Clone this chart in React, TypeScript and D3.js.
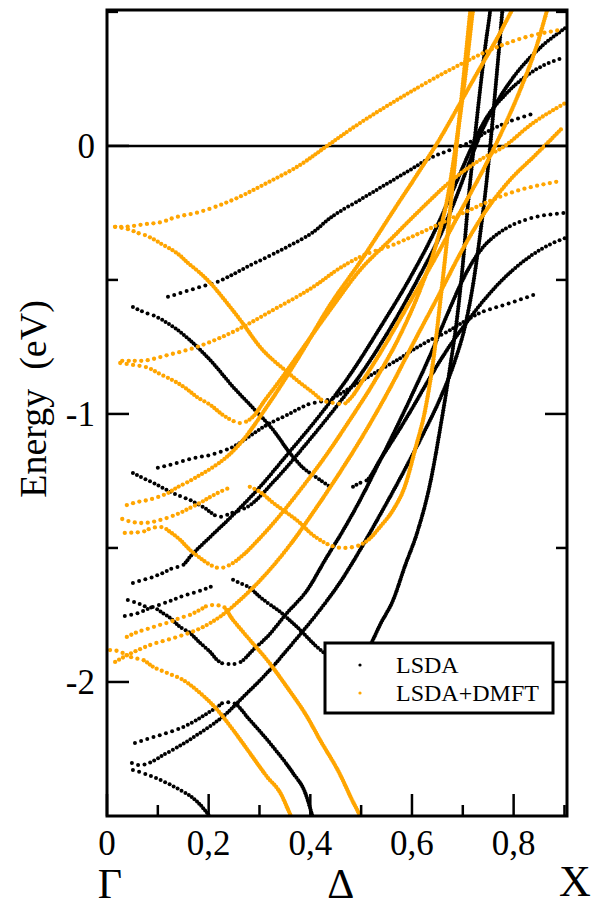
import React, { useEffect, useRef } from 'react';
import * as d3 from 'd3';

type Pt = [number, number];

// ---- axis data ----
const xMajorTicks = [0, 0.2, 0.4, 0.6, 0.8];
const xTickLabels = ['0', '0,2', '0,4', '0,6', '0,8'];
const xMinorTicks = [0.1, 0.3, 0.5, 0.7, 0.9];
const yMajorTicks = [0, -1, -2];
const yTickLabels = ['0', '-1', '-2'];
const yMinorTicks = [0.5, -0.5, -1.5];
const kPointLabels = ['\u0393', '\u0394', 'X'];
const legendLabels = ['LSDA', 'LSDA+DMFT'];

// ---- LSDA bands (k, E) ----
const lsda1: Pt[] = [[.051,-.601],[.071,-.619],[.098,-.638],[.118,-.660],[.144,-.694],[.169,-.735],[.203,-.799],[.248,-.899],[.291,-.985],[.327,-1.060],[.360,-1.146],[.380,-1.190],[.419,-1.246],[.439,-1.272]];
const lsda2: Pt[] = [[.120,-.563],[.144,-.549],[.177,-.530],[.217,-.507],[.276,-.451],[.354,-.377],[.406,-.321],[.439,-.269],[.498,-.201],[.557,-.134],[.596,-.090],[.636,-.045],[.675,-.015],[.715,.015],[.745,.050],[.793,.092],[.837,.119]];
const lsda3: Pt[] = [[.051,-1.220],[.071,-1.239],[.091,-1.257],[.110,-1.276],[.138,-1.302],[.163,-1.321],[.189,-1.347],[.222,-1.384],[.246,-1.369],[.276,-1.347],[.331,-1.246],[.390,-1.116],[.449,-.978],[.508,-.828],[.567,-.649],[.616,-.481],[.656,-.332],[.685,-.201],[.711,-.071],[.734,.041],[.764,.153],[.803,.265],[.852,.366],[.902,.440]];
const lsda4: Pt[] = [[.100,-1.201],[.124,-1.190],[.144,-1.179],[.163,-1.168],[.183,-1.160],[.203,-1.153],[.222,-1.142],[.248,-1.123],[.281,-1.082],[.311,-1.045],[.354,-1.004],[.394,-.966],[.445,-.940],[.472,-.910],[.504,-.873],[.537,-.836],[.571,-.799],[.602,-.761],[.636,-.724],[.669,-.694],[.701,-.657],[.734,-.623],[.768,-.601],[.793,-.586],[.839,-.556]];
const lsda5: Pt[] = [[.484,-1.272],[.498,-1.257],[.512,-1.246],[.537,-1.172],[.571,-1.071],[.602,-.974],[.636,-.862],[.669,-.761],[.701,-.675],[.734,-.593],[.774,-.507],[.823,-.425],[.862,-.377],[.902,-.343]];
const lsda6: Pt[] = [[.051,-1.631],[.071,-1.619],[.091,-1.608],[.110,-1.593],[.130,-1.575],[.150,-1.563],[.163,-1.534],[.203,-1.459],[.248,-1.377],[.301,-1.272],[.354,-1.153],[.419,-1.004],[.478,-.854],[.537,-.679],[.596,-.493],[.646,-.313],[.685,-.146],[.715,-.015],[.744,.097],[.783,.190],[.833,.272],[.902,.332]];
const lsda7: Pt[] = [[.041,-1.694],[.059,-1.705],[.079,-1.720],[.094,-1.724],[.110,-1.743],[.124,-1.761],[.144,-1.795],[.163,-1.817],[.183,-1.854],[.203,-1.888],[.217,-1.918],[.232,-1.933],[.252,-1.933],[.268,-1.918],[.287,-1.881],[.315,-1.832],[.354,-1.743],[.394,-1.657],[.429,-1.545],[.465,-1.433],[.498,-1.321],[.533,-1.190],[.567,-1.060],[.600,-.929],[.636,-.780],[.669,-.631],[.695,-.519],[.719,-.433],[.744,-.369],[.774,-.321],[.823,-.276],[.902,-.250]];
const lsda8: Pt[] = [[.049,-2.302],[.065,-2.310],[.118,-2.265],[.183,-2.190],[.236,-2.116],[.262,-2.067],[.315,-1.966],[.366,-1.854],[.419,-1.731],[.459,-1.627],[.498,-1.507],[.537,-1.377],[.577,-1.239],[.616,-1.097],[.656,-.940],[.685,-.799],[.705,-.668],[.720,-.519],[.734,-.332],[.746,-.146],[.756,.041],[.764,.209],[.772,.377],[.778,.507],[.781,.560]];
const lsda9: Pt[] = [[.051,-2.328],[.071,-2.340],[.091,-2.354],[.118,-2.377],[.144,-2.403],[.169,-2.433],[.189,-2.470],[.201,-2.500],[.210,-2.530]];
const lsda10: Pt[] = [[.055,-2.228],[.085,-2.209],[.118,-2.190],[.150,-2.168],[.183,-2.134],[.217,-2.093],[.232,-2.075],[.248,-2.078],[.281,-2.142],[.327,-2.243],[.366,-2.340],[.390,-2.414],[.404,-2.500],[.411,-2.552]];
const lsda11: Pt[] = [[.035,-1.754],[.061,-1.743],[.085,-1.724],[.114,-1.705],[.150,-1.679],[.183,-1.660],[.213,-1.638]];
const lsda12: Pt[] = [[.248,-1.619],[.262,-1.631],[.281,-1.649],[.301,-1.683],[.341,-1.739],[.380,-1.806],[.413,-1.869],[.439,-1.907],[.469,-1.933],[.494,-1.929],[.518,-1.862],[.537,-1.787],[.563,-1.694],[.587,-1.563],[.610,-1.444],[.636,-1.257],[.656,-1.049],[.675,-.825],[.689,-.638],[.699,-.463],[.711,-.201],[.722,0],[.734,.209],[.746,.396],[.754,.507],[.757,.560]];

// ---- LSDA+DMFT bands (k, E) ----
const dmft1: Pt[] = [[.016,-.302],[.030,-.302],[.079,-.291],[.108,-.284],[.130,-.269],[.183,-.246],[.248,-.201],[.315,-.138],[.380,-.071],[.433,0],[.492,.078],[.571,.172],[.675,.284],[.768,.369],[.819,.403],[.892,.433]];
const dmft2: Pt[] = [[.016,-.302],[.045,-.313],[.061,-.325],[.079,-.336],[.094,-.351],[.110,-.369],[.128,-.388],[.144,-.410],[.157,-.433],[.183,-.474],[.203,-.511],[.236,-.586],[.262,-.649],[.301,-.750],[.354,-.843],[.380,-.884],[.406,-.922],[.423,-.948],[.445,-.959],[.465,-.963],[.478,-.944],[.504,-.873],[.547,-.743],[.596,-.582],[.646,-.418],[.695,-.246],[.744,-.075],[.783,.078],[.817,.228],[.846,.377],[.866,.507],[.872,.545]];
const dmft3: Pt[] = [[.030,-.802],[.065,-.802],[.120,-.780],[.177,-.750],[.248,-.694],[.327,-.612],[.406,-.526],[.459,-.455],[.498,-.414],[.563,-.369],[.616,-.325],[.701,-.250],[.799,-.172],[.884,-.134]];
const dmft4: Pt[] = [[.026,-.810],[.051,-.817],[.081,-.828],[.104,-.851],[.128,-.873],[.154,-.903],[.177,-.937],[.203,-.966],[.228,-1.004],[.248,-1.026],[.262,-1.034],[.287,-1.011],[.311,-.948],[.341,-.873],[.380,-.769],[.439,-.612],[.498,-.463],[.557,-.351],[.616,-.239],[.675,-.134],[.734,-.052],[.783,0],[.833,.078],[.902,.160]];
const dmft5: Pt[] = [[.039,-1.340],[.061,-1.328],[.081,-1.321],[.100,-1.310],[.120,-1.295],[.140,-1.272],[.159,-1.254],[.183,-1.228],[.209,-1.198],[.236,-1.160],[.256,-1.123],[.321,-.955],[.380,-.780],[.439,-.593],[.498,-.433],[.571,-.220],[.616,-.090],[.656,.030],[.695,.160],[.734,.291],[.768,.403],[.797,.507],[.813,.563]];
const dmft6: Pt[] = [[.030,-1.392],[.049,-1.403],[.069,-1.407],[.089,-1.403],[.104,-1.396],[.124,-1.384],[.144,-1.369],[.163,-1.351],[.183,-1.332],[.203,-1.310],[.222,-1.291],[.246,-1.272]];
const dmft7: Pt[] = [[.281,-1.272],[.301,-1.291],[.327,-1.332],[.354,-1.369],[.380,-1.407],[.400,-1.444],[.419,-1.470],[.443,-1.493],[.465,-1.500],[.492,-1.493],[.514,-1.470],[.537,-1.422],[.563,-1.358],[.587,-1.265],[.606,-1.134],[.626,-.985],[.642,-.799],[.656,-.575],[.669,-.351],[.681,-.127],[.691,.060],[.701,.246],[.711,.433],[.717,.545]];
const dmft8: Pt[] = [[.035,-1.444],[.069,-1.440],[.089,-1.425],[.108,-1.422],[.124,-1.440],[.144,-1.470],[.163,-1.507],[.183,-1.537],[.203,-1.563],[.222,-1.575],[.248,-1.556],[.268,-1.526],[.301,-1.463],[.341,-1.377],[.380,-1.284],[.429,-1.160],[.478,-1.022],[.528,-.873],[.577,-.705],[.616,-.537],[.650,-.351],[.671,-.183],[.685,-.015],[.699,.172],[.711,.358],[.720,.507],[.724,.563]];
const dmft9: Pt[] = [[.039,-1.832],[.061,-1.813],[.085,-1.799],[.104,-1.787],[.124,-1.776],[.144,-1.761],[.163,-1.750],[.183,-1.731],[.203,-1.713],[.226,-1.716],[.248,-1.769],[.281,-1.843],[.315,-1.918],[.354,-2.019],[.394,-2.131],[.419,-2.216],[.459,-2.347],[.482,-2.440],[.498,-2.500],[.508,-2.545]];
const dmft10: Pt[] = [[.006,-1.881],[.020,-1.884],[.051,-1.910],[.071,-1.918],[.091,-1.944],[.118,-1.966],[.150,-1.993],[.183,-2.041],[.217,-2.104],[.248,-2.179],[.281,-2.265],[.315,-2.354],[.341,-2.414],[.362,-2.500],[.372,-2.537]];
const dmft11: Pt[] = [[.016,-1.925],[.041,-1.899],[.085,-1.862],[.138,-1.832],[.189,-1.795],[.222,-1.757],[.262,-1.694],[.311,-1.601],[.360,-1.489],[.409,-1.358],[.459,-1.216],[.508,-1.067],[.557,-.903],[.606,-.724],[.656,-.545],[.699,-.388],[.744,-.246],[.793,-.127],[.843,-.034],[.896,.067]];

const lsdaBands = [lsda1, lsda2, lsda3, lsda4, lsda5, lsda6, lsda7, lsda8, lsda9, lsda10, lsda11, lsda12];
const dmftBands = [dmft1, dmft2, dmft3, dmft4, dmft5, dmft6, dmft7, dmft8, dmft9, dmft10, dmft11];

const LSDA_COLOR = '#000000';
const DMFT_COLOR = '#FFA500';

const W = 592, H = 910;
const PL = 107, PR = 567, PT = 10, PB = 816;
const xScale = d3.scaleLinear().domain([0, 0.905]).range([PL, PR]);
const yScale = d3.scaleLinear().domain([-2.5, 0.507]).range([PB, PT]);
const FONT = "'Liberation Serif','Times New Roman',Times,serif";

export default function App() {
  const gRef = useRef<SVGGElement>(null);

  useEffect(() => {
    const g = d3.select(gRef.current);
    g.selectAll('*').remove();
    const line = d3.line<Pt>().x(d => xScale(d[0])).y(d => yScale(d[1])).curve(d3.curveMonotoneX);
    const drawSet = (bands: Pt[][], color: string, r: number) => {
      bands.forEach(band => {
        const path = g.append('path').attr('d', line(band) || '').attr('fill', 'none');
        const node = path.node() as SVGPathElement;
        const L = node.getTotalLength();
        const pts: { x: number; y: number }[] = [];
        let last = node.getPointAtLength(0);
        pts.push({ x: last.x, y: last.y });
        for (let s = 0.5; s <= L; s += 0.5) {
          const p = node.getPointAtLength(s);
          if (Math.abs(p.x - last.x) >= 6 || Math.abs(p.y - last.y) >= 2.0) {
            pts.push({ x: p.x, y: p.y });
            last = p;
          }
        }
        path.remove();
        g.append('g').selectAll('circle').data(pts).enter().append('circle')
          .attr('cx', d => d.x).attr('cy', d => d.y).attr('r', r).attr('fill', color);
      });
    };
    drawSet(lsdaBands, LSDA_COLOR, 2.0);
    drawSet(dmftBands, DMFT_COLOR, 2.15);
  }, []);

  return (
    <svg width={W} height={H} style={{ position: 'absolute', left: 0, top: 0 }} fontFamily={FONT}>
      <defs>
        <clipPath id="plotClip">
          <rect x={PL} y={PT} width={PR - PL} height={PB - PT} />
        </clipPath>
      </defs>
      <rect x={0} y={0} width={W} height={H} fill="white" />
      <line x1={PL} x2={PR} y1={yScale(0)} y2={yScale(0)} stroke="black" strokeWidth={2.5} />
      <g ref={gRef} clipPath="url(#plotClip)" />
      <rect x={PL} y={PT} width={PR - PL} height={PB - PT} fill="none" stroke="black" strokeWidth={3} />
      {xMajorTicks.map(t => (
        <line key={'xM' + t} x1={xScale(t)} x2={xScale(t)} y1={PB} y2={PB - 22} stroke="black" strokeWidth={2.5} />
      ))}
      {xMinorTicks.map(t => (
        <line key={'xm' + t} x1={xScale(t)} x2={xScale(t)} y1={PB} y2={PB - 11} stroke="black" strokeWidth={2.5} />
      ))}
      {yMajorTicks.map(t => (
        <g key={'yM' + t}>
          <line x1={PL} x2={PL + 22} y1={yScale(t)} y2={yScale(t)} stroke="black" strokeWidth={2.5} />
          <line x1={PR} x2={PR - 22} y1={yScale(t)} y2={yScale(t)} stroke="black" strokeWidth={2.5} />
        </g>
      ))}
      {yMinorTicks.map(t => (
        <g key={'ym' + t}>
          <line x1={PL} x2={PL + 11} y1={yScale(t)} y2={yScale(t)} stroke="black" strokeWidth={2.5} />
          <line x1={PR} x2={PR - 11} y1={yScale(t)} y2={yScale(t)} stroke="black" strokeWidth={2.5} />
        </g>
      ))}
      {xMajorTicks.map((t, i) => (
        <text key={'xl' + t} x={xScale(t)} y={855} fontSize={35} textAnchor="middle">{xTickLabels[i]}</text>
      ))}
      {yMajorTicks.map((t, i) => (
        <text key={'yl' + t} x={95} y={yScale(t) + 12} fontSize={35} textAnchor="end">{yTickLabels[i]}</text>
      ))}
      <text x={110} y={898} fontSize={42} textAnchor="middle">{kPointLabels[0]}</text>
      <text x={xScale(0.46)} y={898} fontSize={42} textAnchor="middle">{kPointLabels[1]}</text>
      <text x={575} y={896} fontSize={44} textAnchor="middle">{kPointLabels[2]}</text>
      <text transform={`translate(46,${399}) rotate(-90)`} fontSize={38} textAnchor="middle" style={{ whiteSpace: 'pre' }}>Energy  (eV)</text>
      <g>
        <rect x={325} y={643} width={228} height={70} fill="white" stroke="black" strokeWidth={3} />
        <circle cx={360} cy={665} r={1.6} fill={LSDA_COLOR} />
        <circle cx={360} cy={693} r={1.6} fill={DMFT_COLOR} />
        <text x={396} y={673} fontSize={24}>{legendLabels[0]}</text>
        <text x={396} y={701} fontSize={24}>{legendLabels[1]}</text>
      </g>
    </svg>
  );
}
